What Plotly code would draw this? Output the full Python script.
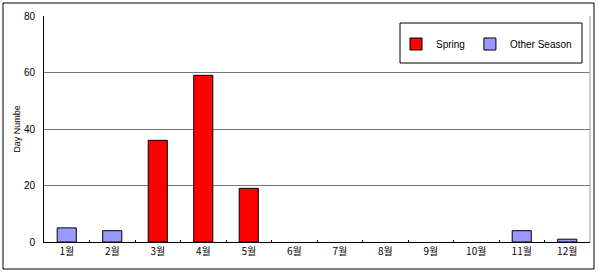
import plotly.graph_objects as go

months = ["1월", "2월", "3월", "4월", "5월", "6월", "7월", "8월", "9월", "10월", "11월", "12월"]
spring = [None, None, 36, 59, 19, None, None, None, None, None, None, None]
other = [5, 4, None, None, None, None, None, None, None, None, 4, 1]
y_ticks = [0, 20, 40, 60, 80]

FONT = "Liberation Sans, Arial, Noto Sans CJK KR, sans-serif"

fig = go.Figure()
fig.add_trace(go.Bar(x=months, y=spring, name="Spring",
                     marker=dict(color="#FF0000", line=dict(color="#000000", width=1)),
                     width=0.42))
fig.add_trace(go.Bar(x=months, y=other, name="Other Season",
                     marker=dict(color="#9999FF", line=dict(color="#000000", width=1)),
                     width=0.42))

L, R, T, B = 44, 590, 16, 242
W, H = R - L, B - T
def px(x): return (x - L) / W
def py(y): return (B - y) / H

fig.update_layout(
    width=600, height=276,
    margin=dict(l=L, r=600 - R, t=T, b=276 - B, autoexpand=False),
    paper_bgcolor="white", plot_bgcolor="white",
    barmode="overlay",
    font=dict(family=FONT, size=10, color="#000"),
    showlegend=True,
    legend=dict(orientation="h", x=px(396), y=py(44), xanchor="left", yanchor="middle",
                borderwidth=0, bgcolor="rgba(0,0,0,0)",
                font=dict(size=10), itemwidth=30),
    xaxis=dict(type="category", categoryorder="array", categoryarray=months,
               showline=True, linecolor="#000", linewidth=1,
               ticks="inside", ticklen=2, tickcolor="#000", tickson="boundaries",
               showgrid=False, fixedrange=True,
               tickfont=dict(size=10, family="Noto Sans CJK KR, Liberation Sans")),
    yaxis=dict(range=[0, 80], tickvals=y_ticks, showline=True, linecolor="#000", linewidth=1,
               showgrid=True, gridcolor="#777", gridwidth=1, zeroline=False,
               ticks="", ticklabelstandoff=6, fixedrange=True,
               title=dict(text="Day Numbe", font=dict(size=9), standoff=1)),
    shapes=[
        dict(type="rect", xref="paper", yref="paper", x0=px(3), x1=px(594), y0=py(3), y1=py(269),
             line=dict(color="#000", width=1), layer="below"),
        dict(type="line", xref="paper", yref="paper", x0=1, x1=1, y0=0, y1=1,
             line=dict(color="#999", width=1)),
        dict(type="rect", xref="paper", yref="paper", x0=px(400), x1=px(582), y0=py(23), y1=py(63),
             line=dict(color="#000", width=1), fillcolor="white", layer="below"),
    ],
)

fig.write_html("out.html")
